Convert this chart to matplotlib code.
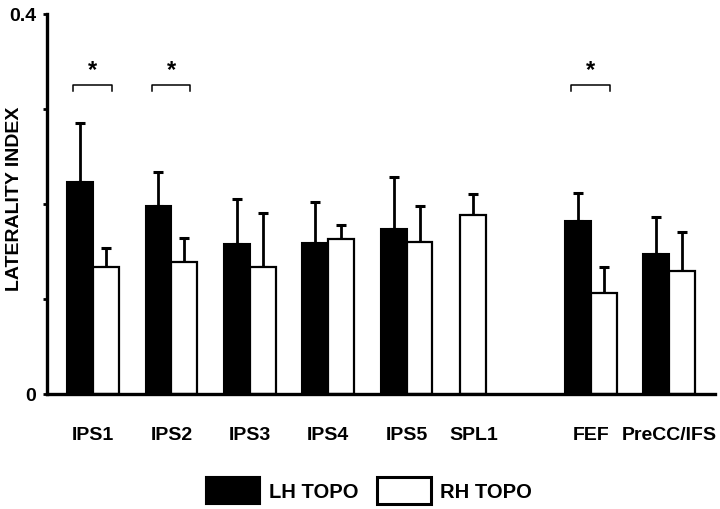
import numpy as np
import matplotlib
matplotlib.use("Agg")
import matplotlib.pyplot as plt
from matplotlib.patches import Patch

plt.rcParams['font.family'] = ['Liberation Sans', 'DejaVu Sans']
plt.rcParams['font.weight'] = 'bold'

categories = ["IPS1", "IPS2", "IPS3", "IPS4", "IPS5", "SPL1", "FEF", "PreCC/IFS"]
positions = [0, 1, 2, 3, 4, 4.85, 6.35, 7.35]
lh_values = [0.223, 0.198, 0.158, 0.159, 0.174, np.nan, 0.182, 0.147]
lh_errors = [0.062, 0.036, 0.047, 0.043, 0.054, np.nan, 0.030, 0.039]
rh_values = [0.134, 0.139, 0.134, 0.163, 0.160, 0.188, 0.106, 0.129]
rh_errors = [0.020, 0.025, 0.057, 0.015, 0.038, 0.023, 0.028, 0.042]
significant = ["IPS1", "IPS2", "FEF"]
legend_labels = ["LH TOPO", "RH TOPO"]

fig = plt.figure(figsize=(7.2, 5.1), dpi=100)
ax = fig.add_axes([0.0653, 0.2255, 0.9278, 0.7451])

w = 0.33
pos = np.array(positions, dtype=float)
lh = np.array(lh_values); lhe = np.array(lh_errors)
rh = np.array(rh_values); rhe = np.array(rh_errors)
single = np.isnan(lh)
lh_x = pos - w / 2
rh_x = np.where(single, pos, pos + w / 2)

ekw = dict(elinewidth=2.0, capthick=2.2, ecolor='black')
m = ~single
ax.bar(lh_x[m], lh[m], width=w, color='black', edgecolor='black', linewidth=1.5, zorder=2)
ax.errorbar(lh_x[m], lh[m], yerr=[np.zeros(m.sum()), lhe[m]], fmt='none', capsize=3.8, zorder=1, **ekw)
ax.bar(rh_x, rh, width=w, color='white', edgecolor='black', linewidth=1.6, zorder=2)
ax.errorbar(rh_x, rh, yerr=[np.zeros(len(rh)), rhe], fmt='none', capsize=3.8, zorder=1, **ekw)

# significance brackets
for name in significant:
    i = categories.index(name)
    c = pos[i]
    x0, x1 = c - 0.25, c + 0.24
    yb, yt = 0.319, 0.3255
    ax.plot([x0, x0, x1, x1], [yb, yt, yt, yb], color='black', lw=1.1, clip_on=False)
    ax.text((x0 + x1) / 2, yt + 0.004, "*", ha='center', va='bottom', fontsize=17, fontweight='bold')

ax.set_xlim(-0.587, 7.934)
ax.set_ylim(0, 0.4)
ax.set_xticks(pos)
ax.set_xticklabels(categories, fontsize=14, fontweight='bold')
ax.tick_params(axis='x', length=0, pad=23)
ax.set_yticks([0, 0.1, 0.2, 0.3, 0.4])
ax.set_yticklabels(["0", "", "", "", "0.4"], fontsize=14, fontweight='bold')
ax.tick_params(axis='y', direction='out', length=3, width=2, pad=5)

for s in ['top', 'right']:
    ax.spines[s].set_visible(False)
for s in ['left', 'bottom']:
    ax.spines[s].set_linewidth(2.4)

ax.set_ylabel("LATERALITY INDEX", fontsize=14, fontweight='bold')
ax.yaxis.set_label_coords(-0.036, 0.516)

handles = [Patch(facecolor='black', edgecolor='black', linewidth=1.5),
           Patch(facecolor='white', edgecolor='black', linewidth=2.2)]
fig.legend(handles, legend_labels, loc='center', bbox_to_anchor=(0.5125, 0.036),
           ncol=2, frameon=False, handlelength=2.7, handleheight=1.65,
           handletextpad=0.45, columnspacing=0.9,
           prop={'size': 14.5, 'weight': 'bold'})

fig.savefig("out.png", dpi=100)
